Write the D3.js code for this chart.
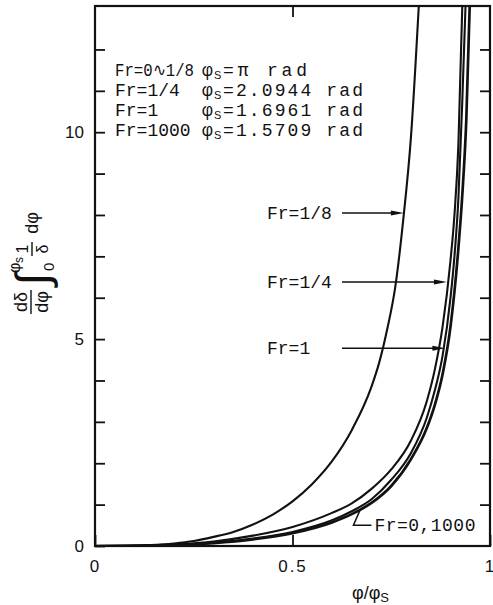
<!DOCTYPE html>
<html>
<head>
<meta charset="utf-8">
<script src="https://cdn.jsdelivr.net/npm/d3@7"></script>
<style>
  body { margin: 0; background: #fff; }
  svg text { fill: #111; }
</style>
</head>
<body>
<svg id="chart" width="493" height="605"></svg>
<script>
// values: x = phi/phi_s, y = (dδ/dφ)·∫ 1/δ dφ
const xFr8 = [0, 0.1, 0.2, 0.25, 0.3, 0.35, 0.4, 0.45, 0.5, 0.55, 0.6, 0.65, 0.7, 0.72, 0.74, 0.76, 0.78, 0.8, 0.82];
const yFr8 = [0, 0.01, 0.06, 0.12, 0.22, 0.34, 0.52, 0.76, 1.08, 1.5, 2.05, 2.8, 3.85, 4.45, 5.25, 6.25, 7.85, 9.9, 13.1];

const xFr4 = [0, 0.1, 0.2, 0.3, 0.4, 0.5, 0.6, 0.65, 0.7, 0.75, 0.8, 0.84, 0.86, 0.88, 0.9, 0.91, 0.92, 0.93];
const yFr4 = [0, 0.005, 0.04, 0.11, 0.25, 0.46, 0.8, 1.03, 1.38, 1.85, 2.55, 3.5, 4.25, 5.3, 6.9, 8.0, 9.7, 13.1];

const xFr1 = [0, 0.1, 0.2, 0.3, 0.4, 0.5, 0.6, 0.65, 0.7, 0.75, 0.8, 0.84, 0.86, 0.88, 0.9, 0.91, 0.92, 0.93, 0.94];
const yFr1 = [0, 0.003, 0.025, 0.08, 0.18, 0.34, 0.62, 0.84, 1.13, 1.6, 2.25, 3.1, 3.75, 4.6, 6.0, 7.0, 8.4, 10.8, 13.6];

const xFr0 = [0, 0.1, 0.2, 0.3, 0.4, 0.5, 0.6, 0.65, 0.7, 0.75, 0.8, 0.84, 0.86, 0.88, 0.9, 0.92, 0.93, 0.94, 0.95];
const yFr0 = [0, 0.003, 0.02, 0.07, 0.16, 0.31, 0.57, 0.77, 1.04, 1.45, 2.1, 2.85, 3.4, 4.15, 5.3, 7.2, 8.5, 10.3, 13.5];

// ticks
const yTicks = [0, 1, 2, 3, 4, 5, 6, 7, 8, 9, 10, 11, 12];
const yLabels = [0, 5, 10];
const xTicks = [0, 0.5, 1];

// legend block in the upper left
const legendFr = ["Fr=0\u223F1/8", "Fr=1/4", "Fr=1", "Fr=1000"];
const legendPhi = ["=\u03C0 rad", "=2.0944 rad", "=1.6961 rad", "=1.5709 rad"];

// arrow labels
const arrowNames = ["Fr=1/8", "Fr=1/4", "Fr=1"];
const arrowY = [8.05, 6.38, 4.78];
const arrowTip = [0.782, 0.891, 0.887];
const zeroTip = [0.672, 0.89];

const mLeft = 95, mRight = 490, mTop = 6, mBottom = 546;
const ink = "#111";
const mono = "'Liberation Mono', 'DejaVu Sans Mono', monospace";
const sans = "'Liberation Sans', Arial, sans-serif";

const svg = d3.select("#chart");

const x = d3.scaleLinear().domain([0, 1]).range([mLeft, mRight]);
const y = d3.scaleLinear().domain([0, 13.05]).range([mBottom, mTop]);

svg.append("clipPath").attr("id", "plot")
  .append("rect")
  .attr("x", mLeft).attr("y", mTop)
  .attr("width", mRight - mLeft).attr("height", mBottom - mTop);

// curves
const line = d3.line()
  .x(d => x(d[0]))
  .y(d => y(d[1]))
  .curve(d3.curveMonotoneX);

const series = [
  {xs: xFr8, ys: yFr8, w: 2.1},
  {xs: xFr4, ys: yFr4, w: 2.1},
  {xs: xFr1, ys: yFr1, w: 2.1},
  {xs: xFr0, ys: yFr0, w: 2.7}
];

svg.append("g").attr("clip-path", "url(#plot)")
  .selectAll("path")
  .data(series)
  .enter()
  .append("path")
    .attr("d", s => line(d3.zip(s.xs, s.ys)))
    .attr("fill", "none")
    .attr("stroke", ink)
    .attr("stroke-width", s => s.w);

// frame
svg.append("rect")
  .attr("x", mLeft).attr("y", mTop)
  .attr("width", mRight - mLeft).attr("height", mBottom - mTop)
  .attr("fill", "none")
  .attr("stroke", ink)
  .attr("stroke-width", 2.2);

// axes, ticks pointing inward
function styleAxis(g) {
  g.select(".domain").remove();
  g.selectAll(".tick line").attr("stroke", ink).attr("stroke-width", 1.8);
  g.selectAll(".tick text").style("font-family", sans).style("font-size", "17px").attr("fill", ink);
}

svg.append("g")
  .attr("transform", `translate(${mLeft},0)`)
  .call(d3.axisLeft(y).tickValues(yTicks).tickSizeInner(-10).tickSizeOuter(0).tickPadding(11)
    .tickFormat(d => yLabels.includes(d) ? d : ""))
  .call(styleAxis);

svg.append("g")
  .attr("transform", `translate(${mRight},0)`)
  .call(d3.axisRight(y).tickValues(yTicks.slice(1)).tickSizeInner(-10).tickSizeOuter(0).tickFormat(""))
  .call(styleAxis);

svg.append("g")
  .attr("transform", `translate(0,${mTop})`)
  .call(d3.axisTop(x).tickValues([0.5]).tickSizeInner(-11).tickSizeOuter(0).tickFormat(""))
  .call(styleAxis);

svg.append("g")
  .attr("transform", `translate(0,${mBottom})`)
  .call(d3.axisBottom(x).tickValues(xTicks).tickSizeInner(-11).tickSizeOuter(0).tickPadding(14)
    .tickFormat(d => d === 0 ? "0" : d === 1 ? "1" : "0.5"))
  .call(styleAxis)
  .selectAll(".tick text").attr("letter-spacing", "2px");

// legend block
const leg = svg.append("g").style("font-family", mono).style("font-size", "18px");
legendFr.forEach((t, i) => {
  const by = 76 + i * 20;
  const lt = leg.append("text").attr("x", 115).attr("y", by).text(t);
  if (i === 0) lt.attr("textLength", 79).attr("lengthAdjust", "spacingAndGlyphs");
  leg.append("text").attr("x", 202).attr("y", by).text("\u03C6");
  leg.append("text").attr("x", 214).attr("y", by + 3)
    .style("font-family", sans).style("font-size", "11px").text("S");
  leg.append("text").attr("x", 223).attr("y", by)
    .attr("textLength", i === 0 ? 84 : 140).attr("lengthAdjust", "spacing")
    .text(legendPhi[i]);
});

// arrow labels
const lab = svg.append("g").style("font-family", mono).style("font-size", "18px");
arrowNames.forEach((t, i) => {
  const py = y(arrowY[i]);
  const tx = x(arrowTip[i]);
  lab.append("text").attr("x", 267).attr("y", py + 6).text(t);
  lab.append("line")
    .attr("x1", 342).attr("x2", tx - 10)
    .attr("y1", py).attr("y2", py)
    .attr("stroke", ink).attr("stroke-width", 1.5);
  lab.append("path")
    .attr("d", `M${tx},${py} L${tx - 13},${py - 2.5} L${tx - 13},${py + 2.5} Z`)
    .attr("fill", ink);
});

// Fr=0,1000 leader
const zx = x(zeroTip[0]), zy = y(zeroTip[1]);
lab.append("path")
  .attr("d", `M${zx + 11},${zy + 16} H${zx - 7} L${zx},${zy}`)
  .attr("fill", "none").attr("stroke", ink).attr("stroke-width", 1.5);
lab.append("text").attr("x", zx + 14).attr("y", zy + 22)
  .attr("textLength", 101).attr("lengthAdjust", "spacing")
  .text("Fr=0,1000");

// x axis title
const xt = svg.append("text").attr("x", 352).attr("y", 599)
  .style("font-family", sans).style("font-size", "18px");
xt.append("tspan").text("\u03C6/\u03C6");
xt.append("tspan").attr("dy", 3).style("font-size", "13px").text("S");

// y axis title, built in rotated coordinates
const gy = svg.append("g")
  .attr("transform", "translate(32,262) rotate(-90)")
  .style("font-family", sans).style("font-size", "18px");
gy.append("text").attr("x", -40).attr("y", -5).attr("text-anchor", "middle").text("d\u03B4");
gy.append("line").attr("x1", -52).attr("x2", -28).attr("y1", -1).attr("y2", -1)
  .attr("stroke", ink).attr("stroke-width", 1.4);
gy.append("text").attr("x", -40).attr("y", 16).attr("text-anchor", "middle").text("d\u03C6");
gy.append("text").attr("x", -17).attr("y", 16).attr("text-anchor", "middle")
  .style("font-size", "46px").text("\u222B");
gy.append("text").attr("x", -11).attr("y", -12).style("font-size", "16px").text("\u03C6");
gy.append("text").attr("x", -1).attr("y", -9).style("font-size", "12px").text("s");
gy.append("text").attr("x", -9).attr("y", 22).style("font-size", "15px").text("0");
gy.append("text").attr("x", 13).attr("y", -4).attr("text-anchor", "middle").style("font-size", "16px").text("1");
gy.append("line").attr("x1", 6).attr("x2", 20).attr("y1", 0).attr("y2", 0)
  .attr("stroke", ink).attr("stroke-width", 1.4);
gy.append("text").attr("x", 13).attr("y", 16).attr("text-anchor", "middle").style("font-size", "16px").text("\u03B4");
gy.append("text").attr("x", 39).attr("y", 6).attr("text-anchor", "middle").text("d\u03C6");
</script>
</body>
</html>
